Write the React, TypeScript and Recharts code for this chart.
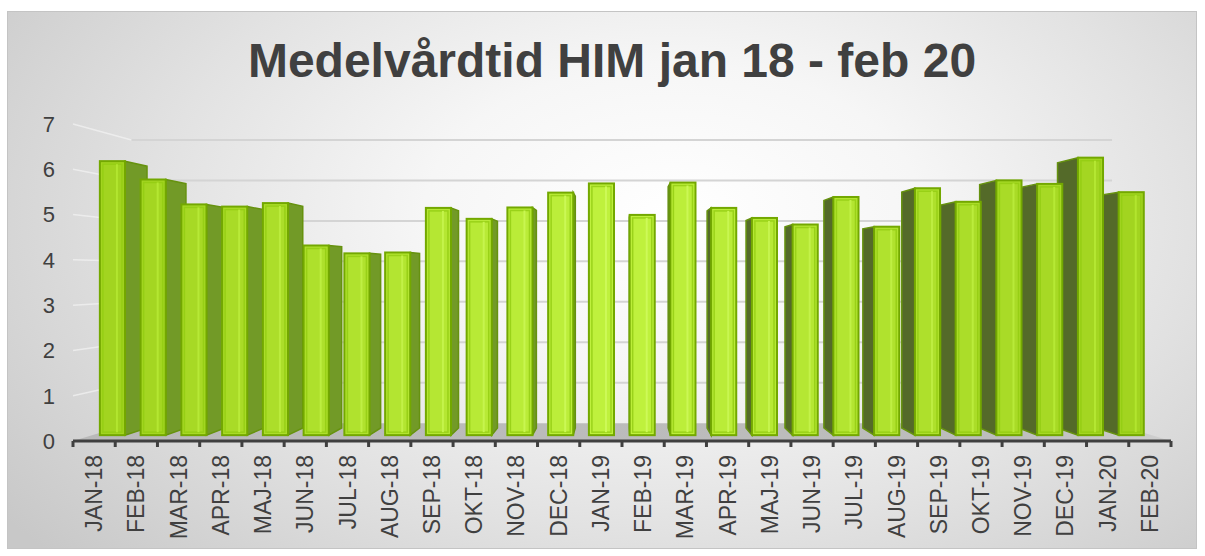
import { BarChart, Bar, XAxis, YAxis, CartesianGrid } from "recharts";

const months = [
  "JAN-18", "FEB-18", "MAR-18", "APR-18", "MAJ-18", "JUN-18", "JUL-18", "AUG-18",
  "SEP-18", "OKT-18", "NOV-18", "DEC-18", "JAN-19", "FEB-19", "MAR-19", "APR-19",
  "MAJ-19", "JUN-19", "JUL-19", "AUG-19", "SEP-19", "OKT-19", "NOV-19", "DEC-19",
  "JAN-20", "FEB-20",
];

const values = [
  6.27, 5.85, 5.28, 5.23, 5.31, 4.34, 4.16, 4.18, 5.2, 4.95, 5.21, 5.55, 5.76,
  5.04, 5.78, 5.2, 4.97, 4.82, 5.45, 4.77, 5.65, 5.34, 5.83, 5.75, 6.35, 5.56,
];

const yTicks = [0, 1, 2, 3, 4, 5, 6, 7];

const data = months.map((m, i) => ({ m, v: values[i] }));

// layout (svg coords)
const W = 1188;
const H = 536;
const PLOT_L = 65;
const PLOT_R = 1163;
const PLOT_B = 429;
const BAND = (PLOT_R - PLOT_L) / months.length;

// fake perspective
const VX = 612;
const VY = 262;
const Z0 = 0.035;
const Z1 = 0.078;
const ZW = 0.107;

const FONT = "'Liberation Sans', Arial, sans-serif";
const INK = "#404040";

function proj(px: number, py: number, z: number) {
  return [px + (VX - px) * z, py + (VY - py) * z];
}

function mix(a: number[], b: number[], t: number) {
  const c = a.map((v, i) => Math.round(v + (b[i] - v) * t));
  return `rgb(${c[0]},${c[1]},${c[2]})`;
}

function SideShape(props: any) {
  const { x, y, width, height } = props;
  if (!height || height <= 0) return null;
  const cx = x + width / 2;
  const edge = cx < VX ? x + width : x;
  const pts = [
    proj(edge, y, Z0),
    proj(edge, y, Z1),
    proj(edge, y + height, Z1),
    proj(edge, y + height, Z0),
  ];
  return (
    <polygon
      points={pts.map((p) => p.join(",")).join(" ")}
      fill={cx < VX ? "#729a27" : "#546a29"}
      stroke="#66920f"
      strokeWidth={1.5}
    />
  );
}

function FrontShape(props: any) {
  const { x, y, width, height } = props;
  if (!height || height <= 0) return null;
  const cx = x + width / 2;
  const [x0, y0] = proj(x, y, Z0);
  const [x1, y1] = proj(x + width, y + height, Z0);
  const t = 1 - Math.min(1, Math.abs(cx - VX) / 560);
  const fill = mix([160, 210, 30], [192, 242, 62], t);
  const hi = mix([176, 228, 44], [206, 250, 90], t);
  const w = x1 - x0;
  return (
    <g>
      <rect x={x0} y={y0} width={w} height={y1 - y0} fill={fill} stroke="#73a800" strokeWidth={2} />
      <rect
        x={x0 + 3}
        y={y0 + 3}
        width={w - 6}
        height={y1 - y0 - 6}
        fill="none"
        stroke="#92cc12"
        strokeWidth={1.5}
        opacity={0.8}
      />
      <line x1={x0 + w * 0.68} y1={y0 + 3} x2={x0 + w * 0.68} y2={y1 - 3} stroke={hi} strokeWidth={2} />
    </g>
  );
}

function GridLine(props: any) {
  const { y1, index } = props;
  const [bl, by] = proj(PLOT_L, y1, ZW);
  const [br] = proj(PLOT_R, y1, ZW);
  const isFloor = Math.abs(y1 - PLOT_B) < 1;
  if (isFloor) {
    const [fr, fy] = proj(PLOT_R, PLOT_B, ZW);
    const pts = [
      [PLOT_L, PLOT_B],
      [PLOT_R, PLOT_B],
      [fr, fy],
      [bl, fy],
    ];
    return (
      <polygon
        key={`floor-${index}`}
        points={pts.map((p) => p.join(",")).join(" ")}
        fill="url(#floorGrad)"
      />
    );
  }
  return (
    <g key={`grid-${index}`}>
      <line x1={PLOT_L} y1={y1} x2={bl} y2={by} stroke="#f4f4f4" strokeWidth={1.5} opacity={0.7} />
      <line x1={bl} y1={by} x2={br} y2={by} stroke="#d4d4d4" strokeWidth={2} />
    </g>
  );
}

function MonthTick(props: any) {
  const { x, y, payload } = props;
  const half = BAND / 2;
  const last = payload.value === months[months.length - 1];
  const ty = y + 14;
  return (
    <g>
      <line x1={x - half} y1={y} x2={x - half} y2={y + 6} stroke={INK} strokeWidth={3} />
      {last && <line x1={x + half} y1={y} x2={x + half} y2={y + 6} stroke={INK} strokeWidth={3} />}
      <text
        x={x}
        y={ty}
        transform={`rotate(-90 ${x} ${ty})`}
        textAnchor="end"
        dominantBaseline="central"
        fontSize={23}
        fontFamily={FONT}
        fill={INK}
      >
        {payload.value}
      </text>
    </g>
  );
}

export default function App() {
  return (
    <div
      style={{
        position: "absolute",
        left: 7,
        top: 11,
        width: W + 2,
        height: H + 2,
        boxSizing: "border-box",
        border: "1px solid #c4c4c4",
        background:
          "radial-gradient(ellipse 70% 95% at 56% 38%, #ffffff 0%, #f6f6f6 30%, #e2e2e2 62%, #c8c8c8 100%)",
      }}
    >
      <div
        style={{
          position: "absolute",
          left: 10,
          top: 21,
          width: W,
          textAlign: "center",
          fontFamily: FONT,
          fontWeight: "bold",
          fontSize: 48,
          lineHeight: "56px",
          color: INK,
        }}
      >
        Medelvårdtid HIM jan 18 - feb 20
      </div>
      <div style={{ position: "absolute", left: 0, top: 0 }}>
        <BarChart
          width={W}
          height={H}
          data={data}
          margin={{ top: 112, right: W - PLOT_R, left: 0, bottom: 7 }}
        >
          <defs>
            <linearGradient id="floorGrad" x1="0" y1="0" x2="1" y2="0">
              <stop offset="0%" stopColor="#b9b9b9" />
              <stop offset="85%" stopColor="#bdbdbd" />
              <stop offset="100%" stopColor="#cfcfcf" />
            </linearGradient>
          </defs>
          <CartesianGrid vertical={false} horizontal={GridLine as any} stroke="none" />
          <XAxis
            xAxisId="front"
            dataKey="m"
            interval={0}
            height={100}
            tickSize={0}
            tickMargin={0}
            tickLine={false}
            axisLine={{ stroke: INK, strokeWidth: 3 }}
            tick={<MonthTick />}
          />
          <XAxis xAxisId="side" dataKey="m" hide />
          <YAxis
            width={PLOT_L}
            domain={[0, 7]}
            ticks={yTicks}
            interval={0}
            axisLine={false}
            tickLine={false}
            tickSize={0}
            tickMargin={18}
            tick={{ fontSize: 22, fill: INK, fontFamily: FONT }}
          />
          <Bar xAxisId="side" dataKey="v" barSize={26} shape={<SideShape />} isAnimationActive={false} />
          <Bar xAxisId="front" dataKey="v" barSize={26} shape={<FrontShape />} isAnimationActive={false} />
        </BarChart>
      </div>
    </div>
  );
}
